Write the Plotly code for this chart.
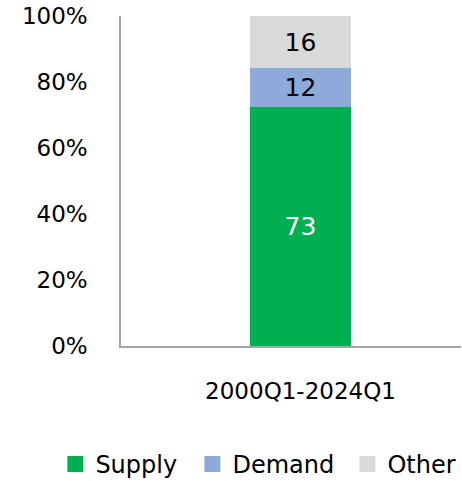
import plotly.graph_objects as go

categories = ["2000Q1-2024Q1"]
series_names = ["Supply", "Demand", "Other"]
supply = [73]
demand = [12]
other = [16]
colors = ["#00B050", "#8EAADB", "#D9D9D9"]
text_colors = ["white", "black", "black"]
y_ticks = [0, 20, 40, 60, 80, 100]
y_tick_labels = ["0%", "20%", "40%", "60%", "80%", "100%"]

FONT = "DejaVu Sans"
legend_ids = ["legend", "legend2", "legend3"]
legend_x = [-0.193, 0.210, 0.666]

fig = go.Figure()
for name, vals, col, tcol in zip(series_names, [supply, demand, other], colors, text_colors):
    fig.add_trace(go.Bar(
        x=categories, y=vals, name=name,
        marker=dict(color=col, line=dict(width=0)),
        text=[str(v) for v in vals], textposition="inside",
        insidetextanchor="middle",
        textfont=dict(family=FONT, size=25, color=tcol),
        width=0.297, showlegend=False, legendgroup=name,
    ))
# legend entries with larger square swatches
for name, col, lid in zip(series_names, colors, legend_ids):
    fig.add_trace(go.Scatter(
        x=[None], y=[None], mode="markers", name=name, legendgroup=name,
        marker=dict(symbol="square", size=18, color=col), showlegend=True,
        legend=lid,
    ))

legend_common = dict(orientation="h", xanchor="left", y=-0.359, yanchor="middle",
                     font=dict(family=FONT, size=24, color="black"),
                     itemsizing="trace", bgcolor="rgba(0,0,0,0)")

fig.update_layout(
    barmode="stack", barnorm="percent",
    width=462, height=481,
    margin=dict(l=121, r=1, t=16, b=135, autoexpand=False),
    paper_bgcolor="white", plot_bgcolor="white",
    font=dict(family=FONT, size=23, color="black"),
    uniformtext=dict(minsize=10, mode="show"),
    showlegend=True,
    legend=dict(x=legend_x[0], **legend_common),
    legend2=dict(x=legend_x[1], **legend_common),
    legend3=dict(x=legend_x[2], **legend_common),
    xaxis=dict(type="category", range=[-0.528, 0.472], showline=True, linecolor="#A6A6A6",
               linewidth=1.5, showgrid=False, ticks="", ticklabelstandoff=24, automargin=False,
               tickfont=dict(family=FONT, size=23, color="black"), fixedrange=True),
    yaxis=dict(range=[0, 100], tickvals=y_ticks, ticktext=y_tick_labels, showline=True,
               linecolor="#A6A6A6", linewidth=1.5, showgrid=False, zeroline=False,
               ticks="", ticklabelstandoff=27, automargin=False, ticklabeloverflow="allow",
               tickfont=dict(family=FONT, size=23, color="black"), fixedrange=True),
)

fig.write_html("out.html", config={"displayModeBar": False},
               post_script="document.body.style.margin='0';")
